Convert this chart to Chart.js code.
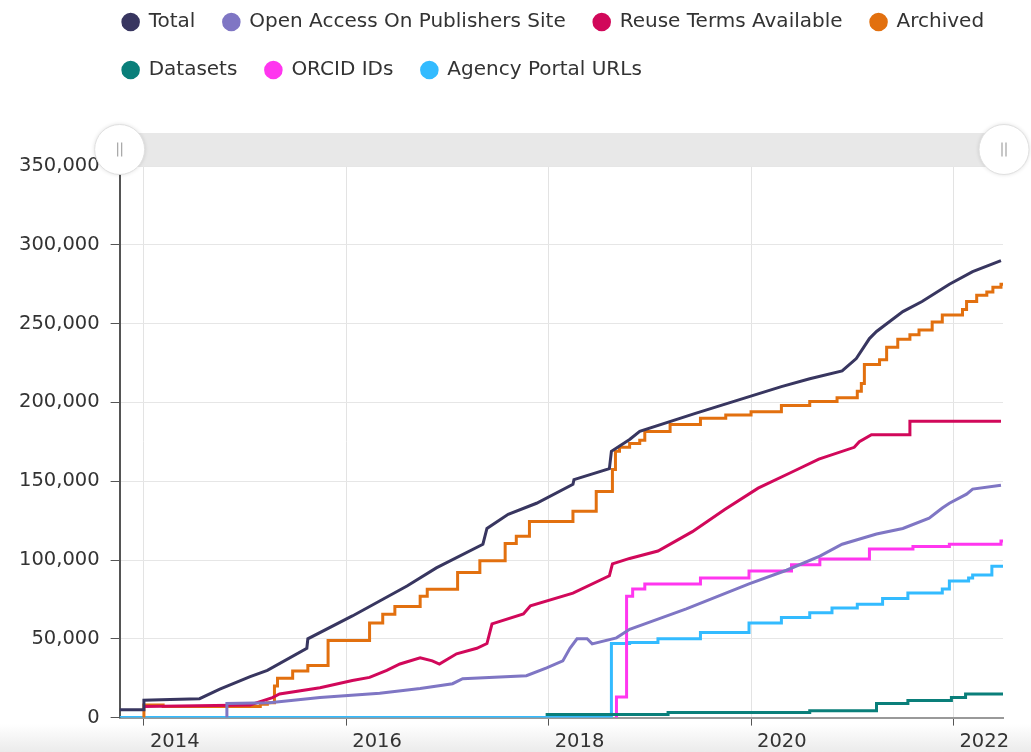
<!DOCTYPE html>
<html lang="en">
<head>
  <meta charset="UTF-8">
  <title>Records over time</title>
  <script src="https://cdn.jsdelivr.net/npm/chart.js@4.4.1/dist/chart.umd.min.js"></script>
  <style>
    html, body {
      margin: 0;
      padding: 0;
    }
    body {
      width: 1031px;
      height: 752px;
      overflow: hidden;
      background: linear-gradient(to bottom, #fff 0, #fff 724px, #ebebeb 752px);
      font-family: 'DejaVu Sans', Verdana, sans-serif;
    }
    #wrap {
      position: relative;
      width: 1031px;
      height: 752px;
    }
  </style>
</head>
<body>
  <div id="wrap">
    <canvas id="growth" width="1031" height="752"></canvas>
  </div>

  <script>
    // [decimal year, count]
    const total = [
      [2013.76, 5000], [2014.0, 5000], [2014.0, 11000], [2014.26, 11500], [2014.55, 12000],
      [2014.75, 18000], [2015.05, 26000], [2015.22, 30000], [2015.61, 44000], [2015.62, 50000],
      [2016.06, 64500], [2016.33, 74000], [2016.6, 83500], [2016.89, 95000], [2017.35, 110000],
      [2017.39, 120000], [2017.6, 129000], [2017.88, 136000], [2018.24, 148000], [2018.25, 151000],
      [2018.6, 158000], [2018.62, 169000], [2018.8, 176500], [2018.9, 181600], [2019.45, 193000],
      [2019.99, 203800], [2020.3, 210000], [2020.58, 215000], [2020.9, 220000], [2021.04, 227800],
      [2021.17, 240500], [2021.24, 245000], [2021.5, 257600], [2021.69, 264000], [2021.96, 275000],
      [2022.19, 283000], [2022.47, 290000]
    ];
    const openAccess = [
      [2014.82, 0], [2014.82, 9000], [2015.24, 9500], [2015.74, 12700], [2016.33, 15500],
      [2016.73, 18400], [2017.05, 21500], [2017.15, 24700], [2017.78, 26600], [2017.98, 31600],
      [2018.14, 36000], [2018.21, 44000], [2018.28, 50000], [2018.38, 50000], [2018.43, 46800],
      [2018.67, 50600], [2018.8, 56000], [2018.95, 59500], [2019.36, 69000], [2019.98, 84800],
      [2020.35, 93500], [2020.68, 102500], [2020.9, 110000], [2021.24, 116500], [2021.5, 120000],
      [2021.76, 126600], [2021.89, 133000], [2021.96, 136000], [2022.13, 141800], [2022.19, 145000],
      [2022.47, 147500]
    ];
    const reuseTerms = [
      [2014.0, 7000], [2015.05, 8000], [2015.27, 12700], [2015.34, 15000], [2015.74, 19000],
      [2016.06, 23500], [2016.23, 25500], [2016.4, 30000], [2016.53, 34000], [2016.73, 38000],
      [2016.85, 36000], [2016.92, 34000], [2017.09, 40500], [2017.29, 44000], [2017.39, 47000],
      [2017.44, 59500], [2017.75, 65800], [2017.82, 71000], [2018.24, 79000], [2018.6, 90000],
      [2018.63, 97500], [2018.8, 101000], [2019.08, 105700], [2019.42, 118000], [2019.74, 132000],
      [2020.07, 145600], [2020.41, 156000], [2020.67, 164000], [2021.02, 171500], [2021.07, 175000],
      [2021.19, 179500], [2021.57, 179500], [2021.57, 188000], [2022.47, 188000]
    ];
    // stepped series: value holds from its year until the next entry
    const archived = [
      [2013.99, 0], [2014.0, 8000], [2014.19, 7000], [2015.15, 8500], [2015.22, 9500],
      [2015.29, 20000], [2015.32, 25000], [2015.47, 29500], [2015.62, 33000], [2015.82, 49000],
      [2016.23, 60000], [2016.36, 65500], [2016.48, 70500], [2016.73, 77000], [2016.8, 81500],
      [2017.1, 92000], [2017.32, 99500], [2017.57, 110500], [2017.68, 115000], [2017.81, 124500],
      [2018.24, 131000], [2018.47, 143500], [2018.63, 157500], [2018.66, 169000], [2018.7, 171500],
      [2018.8, 174000], [2018.9, 176000], [2018.95, 181500], [2019.2, 186000], [2019.5, 190000],
      [2019.75, 192000], [2020.0, 194000], [2020.3, 198000], [2020.58, 200500], [2020.85, 203000],
      [2021.05, 207000], [2021.09, 212000], [2021.12, 224000], [2021.27, 227000], [2021.34, 235000],
      [2021.45, 240000], [2021.57, 243000], [2021.66, 246000], [2021.79, 251000], [2021.89, 255500],
      [2022.09, 259000], [2022.13, 264000], [2022.23, 268000], [2022.33, 270000], [2022.39, 273000],
      [2022.47, 275000], [2022.49, 275000]
    ];
    const datasetsCount = [
      [2017.97, 2000], [2019.18, 3200], [2020.58, 4400], [2021.24, 8900], [2021.55, 10800],
      [2021.98, 12700], [2022.12, 15000], [2022.49, 15000]
    ];
    const orcidIds = [
      [2018.66, 0], [2018.67, 13000], [2018.77, 77000], [2018.83, 81600], [2018.95, 84800],
      [2019.5, 88600], [2019.98, 93000], [2020.4, 97000], [2020.68, 100600], [2021.17, 107000],
      [2021.6, 108500], [2021.96, 110000], [2022.47, 112000], [2022.49, 112000]
    ];
    const agencyUrls = [
      [2013.76, 0], [2018.62, 47000], [2018.8, 47700], [2019.08, 50000], [2019.5, 54000],
      [2019.98, 60000], [2020.3, 63500], [2020.58, 66500], [2020.8, 69500], [2021.05, 72000],
      [2021.3, 75500], [2021.55, 79000], [2021.89, 81600], [2021.96, 86700], [2022.15, 88600],
      [2022.19, 90500], [2022.38, 96000], [2022.49, 96000]
    ];

    const tickYears = [2014, 2016, 2018, 2020, 2022];
    const xRange = [2013.76, 2022.49];
    const yMax = 350000;

    // label, points, colour, stepped
    const series = [
      ['Total', total, '#383660', false],
      ['Open Access On Publishers Site', openAccess, '#7f76c4', false],
      ['Reuse Terms Available', reuseTerms, '#d1085a', false],
      ['Archived', archived, '#e2700f', true],
      ['Datasets', datasetsCount, '#0a7f7a', true],
      ['ORCID IDs', orcidIds, '#ff36ef', true],
      ['Agency Portal URLs', agencyUrls, '#33bbff', true]
    ];

    Chart.defaults.font.family = "'DejaVu Sans', Verdana, sans-serif";
    Chart.defaults.color = '#333';

    // grey range bar with round handles above the plot, plus legend placement
    const navigatorBar = {
      id: 'navigatorBar',
      afterLayout(chart) {
        const lg = chart.legend;
        lg.left = chart.chartArea.left - 25;
        lg.right = chart.width;
        lg.top = -16;
      },
      afterDraw(chart) {
        const { ctx, chartArea: a } = chart;
        const h = 33;
        const cy = a.top - h / 2;
        ctx.save();
        ctx.fillStyle = '#e8e8e8';
        ctx.fillRect(a.left, a.top - h, a.right - a.left, h);
        [a.left, a.right + 1].forEach(x => {
          ctx.beginPath();
          ctx.arc(x, cy, 25, 0, Math.PI * 2);
          ctx.shadowColor = 'rgba(0,0,0,0.15)';
          ctx.shadowBlur = 4;
          ctx.fillStyle = '#fff';
          ctx.fill();
          ctx.shadowColor = 'transparent';
          ctx.strokeStyle = '#e0e0e0';
          ctx.lineWidth = 1;
          ctx.stroke();
          ctx.strokeStyle = '#aaa';
          ctx.lineWidth = 1.3;
          ctx.beginPath();
          ctx.moveTo(x - 2, cy - 7); ctx.lineTo(x - 2, cy + 7);
          ctx.moveTo(x + 2, cy - 7); ctx.lineTo(x + 2, cy + 7);
          ctx.stroke();
        });
        ctx.restore();
      }
    };

    new Chart(document.getElementById('growth'), {
      type: 'line',
      data: {
        datasets: series.map(([label, pts, color, stepped]) => ({
          label,
          data: pts.map(([x, y]) => ({ x, y })),
          borderColor: color,
          backgroundColor: color,
          borderWidth: 3,
          pointRadius: 0,
          stepped,
          fill: false
        }))
      },
      options: {
        responsive: false,
        animation: false,
        layout: { padding: { top: 60, left: 8, right: 28, bottom: -7 } },
        scales: {
          x: {
            type: 'linear',
            min: xRange[0],
            max: xRange[1],
            afterBuildTicks: s => { s.ticks = tickYears.map(v => ({ value: v })); },
            ticks: {
              align: 'start',
              labelOffset: 6,
              padding: 5,
              autoSkip: false,
              maxRotation: 0,
              color: '#333',
              font: { size: 19.5 },
              callback: v => String(v)
            },
            grid: { color: '#e3e3e3', tickColor: '#555', tickLength: 8 },
            border: { color: '#999', width: 2 }
          },
          y: {
            min: 0,
            max: yMax,
            ticks: { stepSize: 50000, padding: 11, color: '#333', font: { size: 19.5 } },
            grid: { color: '#e6e6e6', tickColor: '#555', tickLength: 9 },
            border: { color: '#555', width: 2 }
          }
        },
        plugins: {
          legend: {
            position: 'top',
            align: 'start',
            labels: {
              usePointStyle: true,
              pointStyle: 'circle',
              boxWidth: 16,
              boxHeight: 11,
              padding: 28,
              color: '#333',
              font: { size: 20 }
            }
          },
          tooltip: { enabled: false }
        }
      },
      plugins: [navigatorBar]
    });
  </script>
</body>
</html>
